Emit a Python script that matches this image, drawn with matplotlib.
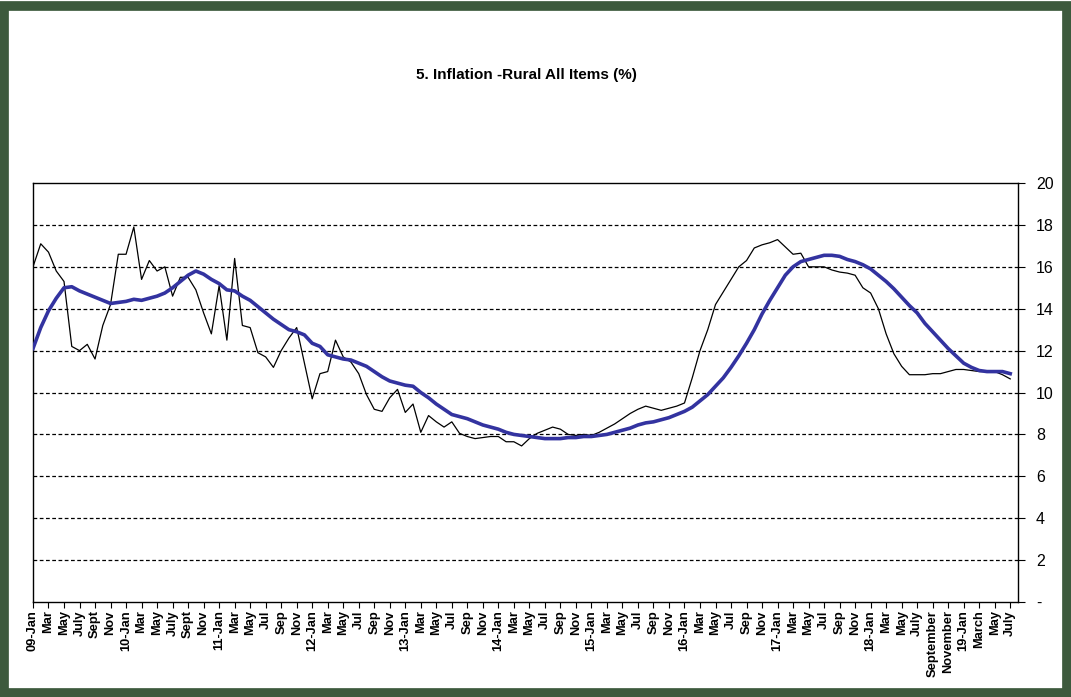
import matplotlib.pyplot as plt
from matplotlib.patches import Rectangle

# monthly rural inflation, Jan 2009 - Jul 2019
rural_yoy = [16.0, 17.1, 16.7, 15.8, 15.3, 12.2, 12.0, 12.3, 11.6, 13.2, 14.2, 16.6,
             16.6, 17.9, 15.4, 16.3, 15.8, 16.0, 14.6, 15.5, 15.5, 14.9, 13.8, 12.8,
             15.1, 12.5, 16.4, 13.2, 13.1, 11.9, 11.7, 11.2, 12.0, 12.6, 13.1, 11.4,
             9.7, 10.9, 11.0, 12.5, 11.7, 11.45, 10.9, 9.9, 9.2, 9.1, 9.75, 10.15,
             9.05, 9.45, 8.1, 8.9, 8.6, 8.35, 8.6, 8.05, 7.9, 7.8, 7.85, 7.9,
             7.9, 7.65, 7.65, 7.45, 7.8, 8.05, 8.2, 8.35, 8.25, 8.0, 7.95, 8.0,
             7.95, 8.1, 8.3, 8.5, 8.75, 9.0, 9.2, 9.35, 9.25, 9.15, 9.25, 9.35,
             9.5, 10.7, 12.0, 13.0, 14.2, 14.8, 15.4, 16.0, 16.3, 16.9, 17.05, 17.15,
             17.3, 16.95, 16.6, 16.65, 16.0, 16.0, 16.0, 15.85, 15.75, 15.7, 15.6, 15.0,
             14.75, 14.0, 12.8, 11.85, 11.25, 10.85, 10.85, 10.85, 10.9, 10.9, 11.0, 11.1,
             11.1, 11.05, 11.0, 11.0, 11.0, 10.85, 10.65]

# 12 month average
rural_avg = [12.1, 13.1, 13.9, 14.5, 15.0, 15.05, 14.85, 14.7, 14.55, 14.4, 14.25, 14.3,
             14.35, 14.45, 14.4, 14.5, 14.6, 14.75, 15.0, 15.3, 15.6, 15.8, 15.65, 15.4,
             15.2, 14.9, 14.85, 14.6, 14.4, 14.1, 13.8, 13.5, 13.25, 13.0, 12.9, 12.75,
             12.35, 12.2, 11.8, 11.7, 11.6, 11.55, 11.4, 11.25, 11.0, 10.75, 10.55, 10.45,
             10.35, 10.3, 10.0, 9.75, 9.45, 9.2, 8.95, 8.85, 8.75, 8.6, 8.45, 8.35,
             8.25, 8.1, 8.0, 7.95, 7.9, 7.85, 7.8, 7.8, 7.8, 7.85, 7.85, 7.9,
             7.9, 7.95, 8.0, 8.1, 8.2, 8.3, 8.45, 8.55, 8.6, 8.7, 8.8, 8.95,
             9.1, 9.3, 9.6, 9.9, 10.3, 10.7, 11.2, 11.75, 12.35, 13.0, 13.75, 14.4,
             15.0, 15.6, 16.0, 16.25, 16.35, 16.45, 16.55, 16.55, 16.5, 16.35, 16.25, 16.1,
             15.9, 15.6, 15.3, 14.95, 14.55, 14.15, 13.8, 13.3, 12.9, 12.5, 12.1, 11.75,
             11.4, 11.2, 11.05, 11.0, 11.0, 11.0, 10.9]

tick_labels = ['09-Jan', 'Mar', 'May', 'July', 'Sept', 'Nov',
               '10-Jan', 'Mar', 'May', 'July', 'Sept', 'Nov',
               '11-Jan', 'Mar', 'May', 'Jul', 'Sep', 'Nov',
               '12-Jan', 'Mar', 'May', 'Jul', 'Sep', 'Nov',
               '13-Jan', 'Mar', 'May', 'Jul', 'Sep', 'Nov',
               '14-Jan', 'Mar', 'May', 'Jul', 'Sep', 'Nov',
               '15-Jan', 'Mar', 'May', 'Jul', 'Sep', 'Nov',
               '16-Jan', 'Mar', 'May', 'Jul', 'Sep', 'Nov',
               '17-Jan', 'Mar', 'May', 'Jul', 'Sep', 'Nov',
               '18-Jan', 'Mar', 'May', 'July', 'September', 'November',
               '19-Jan', 'March', 'May', 'July']

y_ticks = [0, 2, 4, 6, 8, 10, 12, 14, 16, 18, 20]
y_labels = ['-', '2', '4', '6', '8', '10', '12', '14', '16', '18', '20']

plt.rcParams['font.family'] = ['Liberation Sans', 'DejaVu Sans']

fig = plt.figure(figsize=(10.71, 6.97), dpi=100)
fig.patch.set_facecolor('white')
# dark green frame round the picture
fig.patches.append(Rectangle((0.004, 0.006), 0.992, 0.985, transform=fig.transFigure,
                             fill=False, edgecolor='#3d5a3d', linewidth=7))

ax = fig.add_axes([0.0308, 0.1363, 0.9197, 0.6011])
x = list(range(len(rural_yoy)))
ax.plot(x, rural_yoy, color='black', lw=0.9, zorder=3)
ax.plot(x, rural_avg, color='#3333a0', lw=2.6, zorder=4)

ax.set_xlim(0, 127)
ax.set_ylim(0, 20)
for v in y_ticks[1:-1]:
    ax.axhline(v, color='black', lw=0.9, ls=(0, (3, 2)), zorder=1)

ax.set_xticks(list(range(0, 127, 2)))
ax.set_xticklabels(tick_labels, rotation=90, fontsize=9.3, fontweight='bold',
                   family=['Liberation Sans Narrow', 'Liberation Sans'])
ax.tick_params(axis='x', length=4, width=0.8, pad=2)

ax.yaxis.tick_right()
ax.set_yticks(y_ticks)
ax.set_yticklabels(y_labels, fontsize=11.5)
ax.tick_params(axis='y', length=5, width=0.8, pad=8)

for s in ax.spines.values():
    s.set_linewidth(1.0)
    s.set_color('black')

fig.text(0.492, 0.893, '5. Inflation -Rural All Items (%)', ha='center', va='center',
         fontsize=11, fontweight='bold')

fig.savefig('out.png', dpi=100)
